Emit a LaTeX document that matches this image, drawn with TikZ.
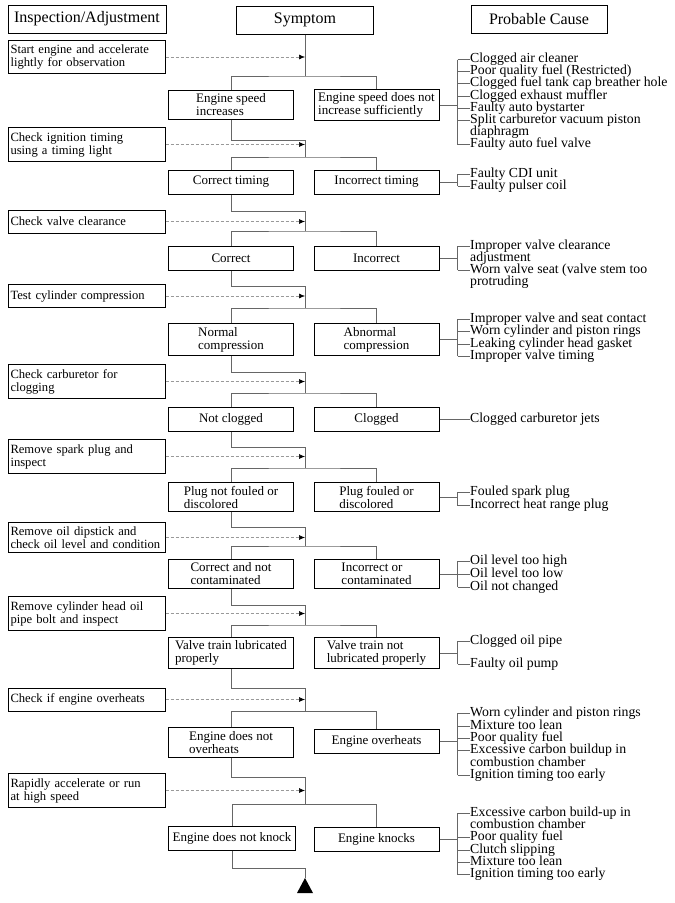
\documentclass[tikz,border=0pt]{standalone}
\usepackage{fontspec}
\setmainfont{Liberation Serif}
\usetikzlibrary{arrows.meta}
\tikzset{
	cadre/.style={draw,line width=1pt,inner xsep=4pt,inner ysep=3.5pt,font=\fontsize{13}{13}\selectfont},
	titre/.style={draw,line width=1pt,minimum height=28pt,inner xsep=4pt,font=\fontsize{16}{16}\selectfont},
	controle/.style={cadre,text width=152pt,align=left,minimum height=23pt,inner xsep=2.5pt,inner ysep=4.5pt,font=\fontsize{12.6}{13}\selectfont},
	symptome/.style={cadre,align=left,minimum width=125pt,minimum height=24pt},
	cause/.style={anchor=west,inner sep=0pt,text height=9pt,text depth=3pt,font=\fontsize{13.8}{12}\selectfont},
	lien/.style={draw=black!60,line width=0.9pt},
	fleche/.style={densely dashed,draw=black!40,line width=0.6pt,-{Latex[length=6pt,width=5pt,color=black]}},
}
\begin{document}
\begin{tikzpicture}[x=1pt,y=-1pt]
		\useasboundingbox (0,0) rectangle (675,903);
		% En-têtes
		\node[titre,minimum width=158pt] (hcontrole) at (87,19) {Inspection/Adjustment};
		\node[titre,minimum width=137pt] (hsymptome) at (305,20) {Symptom};
		\node[titre,minimum width=136pt] (hcause) at (539,19) {Probable Cause};
		% Contrôles
		\node[controle] (insp1) at (86.5,57) {Start engine and accelerate\\lightly for observation};
		\node[controle] (insp2) at (86.5,144.5) {Check ignition timing\\using a timing light};
		\node[controle] (insp3) at (86.5,221.5) {Check valve clearance};
		\node[controle] (insp4) at (86.5,296) {Test cylinder compression};
		\node[controle] (insp5) at (86.5,381.5) {Check carburetor for\\clogging};
		\node[controle] (insp6) at (86.5,456.5) {Remove spark plug and\\inspect};
		\node[controle] (insp7) at (86.5,537.5) {Remove oil dipstick and\\check oil level and condition};
		\node[controle] (insp8) at (86.5,613.5) {Remove cylinder head oil\\pipe bolt and inspect};
		\node[controle] (insp9) at (86.5,699.5) {Check if engine overheats};
		\node[controle] (insp10) at (86.5,790.5) {Rapidly accelerate or run\\at high speed};
		% Symptômes
		\node[symptome] (good1) at (231,105) {Engine speed\\increases};
		\node[symptome] (bad1) at (376.5,105) {Engine speed does not\\increase sufficiently};
		\node[symptome] (good2) at (231,182) {Correct timing};
		\node[symptome] (bad2) at (376.5,182) {Incorrect timing};
		\node[symptome] (good3) at (231,258.5) {Correct};
		\node[symptome] (bad3) at (376.5,258.5) {Incorrect};
		\node[symptome] (good4) at (231,339.5) {Normal\\compression};
		\node[symptome] (bad4) at (376.5,339.5) {Abnormal\\compression};
		\node[symptome] (good5) at (231,419.5) {Not clogged};
		\node[symptome] (bad5) at (376.5,419.5) {Clogged};
		\node[symptome] (good6) at (231,497) {Plug not fouled or\\discolored};
		\node[symptome] (bad6) at (376.5,497) {Plug fouled or\\discolored};
		\node[symptome] (good7) at (231,574) {Correct and not\\contaminated};
		\node[symptome] (bad7) at (376.5,574) {Incorrect or\\contaminated};
		\node[symptome] (good8) at (231,653) {Valve train lubricated\\properly};
		\node[symptome] (bad8) at (376.5,653) {Valve train not\\lubricated properly};
		\node[symptome] (good9) at (231,742.5) {Engine does not\\overheats};
		\node[symptome] (bad9) at (376.5,741) {Engine overheats};
		\node[symptome] (good10) at (232,838) {Engine does not knock};
		\node[symptome] (bad10) at (376.5,839) {Engine knocks};
		% Causes probables
		\node[cause] (c1a) at (470,59.5) {Clogged air cleaner};
		\node[cause] (c1b) at (470,71.7) {Poor quality fuel (Restricted)};
		\node[cause] (c1c) at (470,83.9) {Clogged fuel tank cap breather hole};
		\node[cause] (c1d) at (470,96.1) {Clogged exhaust muffler};
		\node[cause] (c1e) at (470,108.3) {Faulty auto bystarter};
		\node[cause] (c1f) at (470,120.5) {Split carburetor vacuum piston};
		\node[cause] (c1g) at (470,132.7) {diaphragm};
		\node[cause] (c1h) at (470,144.9) {Faulty auto fuel valve};
		\node[cause] (c2a) at (470,174) {Faulty CDI unit};
		\node[cause] (c2b) at (470,186) {Faulty pulser coil};
		\node[cause] (c3a) at (470,246) {Improper valve clearance};
		\node[cause] (c3b) at (470,258) {adjustment};
		\node[cause] (c3c) at (470,270) {Worn valve seat (valve stem too};
		\node[cause] (c3d) at (470,282) {protruding};
		\node[cause] (c4a) at (470,319) {Improper valve and seat contact};
		\node[cause] (c4b) at (470,331.5) {Worn cylinder and piston rings};
		\node[cause] (c4c) at (470,344) {Leaking cylinder head gasket};
		\node[cause] (c4d) at (470,356) {Improper valve timing};
		\node[cause] (c5a) at (470,419.5) {Clogged carburetor jets};
		\node[cause] (c6a) at (470,492) {Fouled spark plug};
		\node[cause] (c6b) at (470,505.5) {Incorrect heat range plug};
		\node[cause] (c7a) at (470,561) {Oil level too high};
		\node[cause] (c7b) at (470,574) {Oil level too low};
		\node[cause] (c7c) at (470,587) {Oil not changed};
		\node[cause] (c8a) at (470,641) {Clogged oil pipe};
		\node[cause] (c8b) at (470,664) {Faulty oil pump};
		\node[cause] (c9a) at (470,713) {Worn cylinder and piston rings};
		\node[cause] (c9b) at (470,726) {Mixture too lean};
		\node[cause] (c9c) at (470,738) {Poor quality fuel};
		\node[cause] (c9d) at (470,750.5) {Excessive carbon buildup in};
		\node[cause] (c9e) at (470,763) {combustion chamber};
		\node[cause] (c9f) at (470,775) {Ignition timing too early};
		\node[cause] (c10a) at (470,813) {Excessive carbon build-up in};
		\node[cause] (c10b) at (470,825) {combustion chamber};
		\node[cause] (c10c) at (470,837.5) {Poor quality fuel};
		\node[cause] (c10d) at (470,850) {Clutch slipping};
		\node[cause] (c10e) at (470,862) {Mixture too lean};
		\node[cause] (c10f) at (470,874.5) {Ignition timing too early};
		% Liaisons
		\coordinate (split1) at (305,76);
		\draw[lien] (hsymptome.south) -- (split1);
		\foreach \i/\e/\s in {2/140/157,3/211/231,4/286/308,5/372/393,6/447/468,7/527/546,8/605/625,9/688/711,10/777/804}{
			\pgfmathtruncatemacro\p{\i-1}
			\coordinate (elbow\i) at (305,\e);
			\coordinate (split\i) at (305,\s);
			\draw[lien] (good\p.south) |- (elbow\i) -- (split\i);
		}
		\foreach \i in {1,...,10}{
			\draw[lien] (good\i.north) |- (split\i) -| (bad\i.north);
			\draw[fleche] (insp\i.east) -- (insp\i.east -| split\i);
		}
		% Accolades vers les causes
		\foreach \i/\haut/\bas/\liste in {1/c1a/c1h/{c1a,c1b,c1c,c1d,c1e,c1f,c1h},2/c2a/c2b/{c2a,c2b},3/c3a/c3c/{c3a,c3c},4/c4a/c4d/{c4a,c4b,c4c,c4d},5/c5a/c5a/{c5a},6/c6a/c6b/{c6a,c6b},7/c7a/c7c/{c7a,c7b,c7c},8/c8a/c8b/{c8a,c8b},9/c9a/c9f/{c9a,c9b,c9c,c9d,c9f},10/c10a/c10f/{c10a,c10c,c10d,c10e,c10f}}{
			\draw[lien] (bad\i.east) -- ++(18,0) coordinate (brk\i);
			\draw[lien] (\haut.west -| brk\i) -- (\bas.west -| brk\i);
			\foreach \c in \liste \draw[lien] (\c.west -| brk\i) -- (\c.west);
		}
		% Fin
		\coordinate (elbow11) at (305,868);
		\coordinate (stop) at (305,878);
		\draw[lien] (good10.south) |- (elbow11) -- (stop);
		\fill (stop) -- ++(8,15) -- ++(-16,0) -- cycle;
\end{tikzpicture}
\end{document}
